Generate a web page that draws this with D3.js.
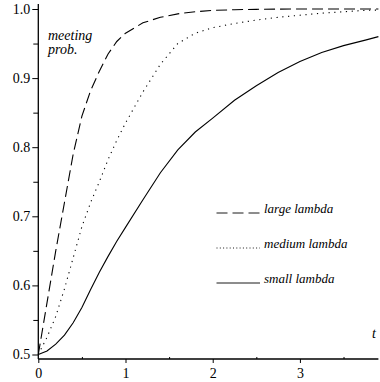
<!DOCTYPE html>
<html>
<head>
<meta charset="utf-8">
<script src="https://cdn.jsdelivr.net/npm/d3@7"></script>
<style>
  body { margin: 0; background: #fff; }
  text { font-family: "Liberation Serif", "Times New Roman", serif; fill: #000; }
</style>
</head>
<body>
<div id="chart"></div>
<script>
// t values
const tValues = [0, 0.1, 0.2, 0.3, 0.4, 0.5, 0.6, 0.7, 0.8, 0.9, 1.0, 1.2, 1.4, 1.6, 1.8, 2.0, 2.25, 2.5, 2.75, 3.0, 3.25, 3.5, 3.75, 3.9];

const largeLambda = [0.5, 0.575, 0.65, 0.72, 0.79, 0.845, 0.882, 0.91, 0.935, 0.953, 0.965, 0.98, 0.988, 0.993, 0.996, 0.998, 0.999, 0.9995, 0.9998, 1.0, 1.0, 1.0, 1.0, 1.0];
const mediumLambda = [0.5, 0.525, 0.555, 0.595, 0.64, 0.685, 0.72, 0.75, 0.782, 0.81, 0.835, 0.88, 0.92, 0.95, 0.965, 0.973, 0.979, 0.984, 0.988, 0.991, 0.994, 0.996, 0.998, 0.9985];
const smallLambda = [0.5, 0.505, 0.515, 0.528, 0.546, 0.568, 0.594, 0.619, 0.642, 0.664, 0.684, 0.724, 0.763, 0.796, 0.822, 0.842, 0.868, 0.889, 0.908, 0.924, 0.937, 0.947, 0.955, 0.96];

const seriesNames = ["large lambda", "medium lambda", "small lambda"];
const yTicks = [0.5, 0.6, 0.7, 0.8, 0.9, 1.0];
const yMinor = [0.55, 0.65, 0.75, 0.85, 0.95];
const xTicks = [0, 1, 2, 3];
const xMinor = [0.5, 1.5, 2.5, 3.5];

const width = 380, height = 382;

const svg = d3.select("#chart").append("svg")
  .attr("width", width)
  .attr("height", height);

const x = d3.scaleLinear().domain([0, 3.9]).range([38.3, 378.4]);
const y = d3.scaleLinear().domain([0.5, 1.0]).range([354.5, 9]);
const yAxisFloor = 0.4935; // x-axis sits just below 0.5

// Axes
const xAxisY = y(yAxisFloor);
svg.append("g")
  .attr("transform", "translate(0," + xAxisY + ")")
  .call(d3.axisBottom(x).tickValues(xTicks).tickSize(4).tickPadding(5).tickFormat(d3.format("d")));
svg.append("g")
  .attr("transform", "translate(0," + xAxisY + ")")
  .call(d3.axisTop(x).tickValues(xMinor).tickSize(2).tickFormat(""));

svg.append("g")
  .attr("transform", "translate(" + x(0) + ",0)")
  .call(d3.axisLeft(y).tickValues(yTicks).tickSize(6).tickPadding(2).tickFormat(d3.format(".1f")));
svg.append("g")
  .attr("transform", "translate(" + x(0) + ",0)")
  .call(d3.axisLeft(y).tickValues(yMinor).tickSize(5).tickFormat(""));

svg.selectAll(".domain").remove();
svg.append("line")
  .attr("x1", x(0)).attr("x2", x(3.9))
  .attr("y1", xAxisY).attr("y2", xAxisY)
  .attr("stroke", "#000").attr("stroke-width", 1.3);
svg.append("line")
  .attr("x1", x(0)).attr("x2", x(0))
  .attr("y1", xAxisY).attr("y2", 4)
  .attr("stroke", "#000").attr("stroke-width", 1.3);

svg.selectAll(".tick line").attr("stroke", "#000");
svg.selectAll(".tick text")
  .style("font-family", "'Liberation Serif', serif")
  .style("font-size", "14px")
  .attr("fill", "#000");

// Lines
const styles = [
  { data: largeLambda, dash: "11,5" },
  { data: mediumLambda, dash: "1.2,4.6" },
  { data: smallLambda, dash: null }
];

const line = d3.line()
  .x((d, i) => x(tValues[i]))
  .y(d => y(d));

styles.forEach(s => {
  svg.append("path")
    .datum(s.data)
    .attr("fill", "none")
    .attr("stroke", "#000")
    .attr("stroke-width", 1.1)
    .attr("stroke-dasharray", s.dash)
    .attr("d", line);
});

// Axis titles
svg.append("text")
  .attr("x", 48).attr("y", 40)
  .style("font-size", "14px").style("font-style", "italic")
  .text("meeting");
svg.append("text")
  .attr("x", 48).attr("y", 54)
  .style("font-size", "14px").style("font-style", "italic")
  .text("prob.");
svg.append("text")
  .attr("x", 372).attr("y", 338)
  .style("font-size", "14px").style("font-style", "italic")
  .text("t");

// Legend
const legendY = [213, 248, 283];
const legendDash = ["11,5", "1,2.3", null];
seriesNames.forEach((name, i) => {
  svg.append("line")
    .attr("x1", 216.5).attr("x2", 260)
    .attr("y1", legendY[i]).attr("y2", legendY[i])
    .attr("stroke", "#000")
    .attr("stroke-width", 0.9)
    .attr("stroke-dasharray", legendDash[i]);
  svg.append("text")
    .attr("x", 264).attr("y", legendY[i])
    .style("font-size", "13px").style("font-style", "italic")
    .text(name);
});
</script>
</body>
</html>
